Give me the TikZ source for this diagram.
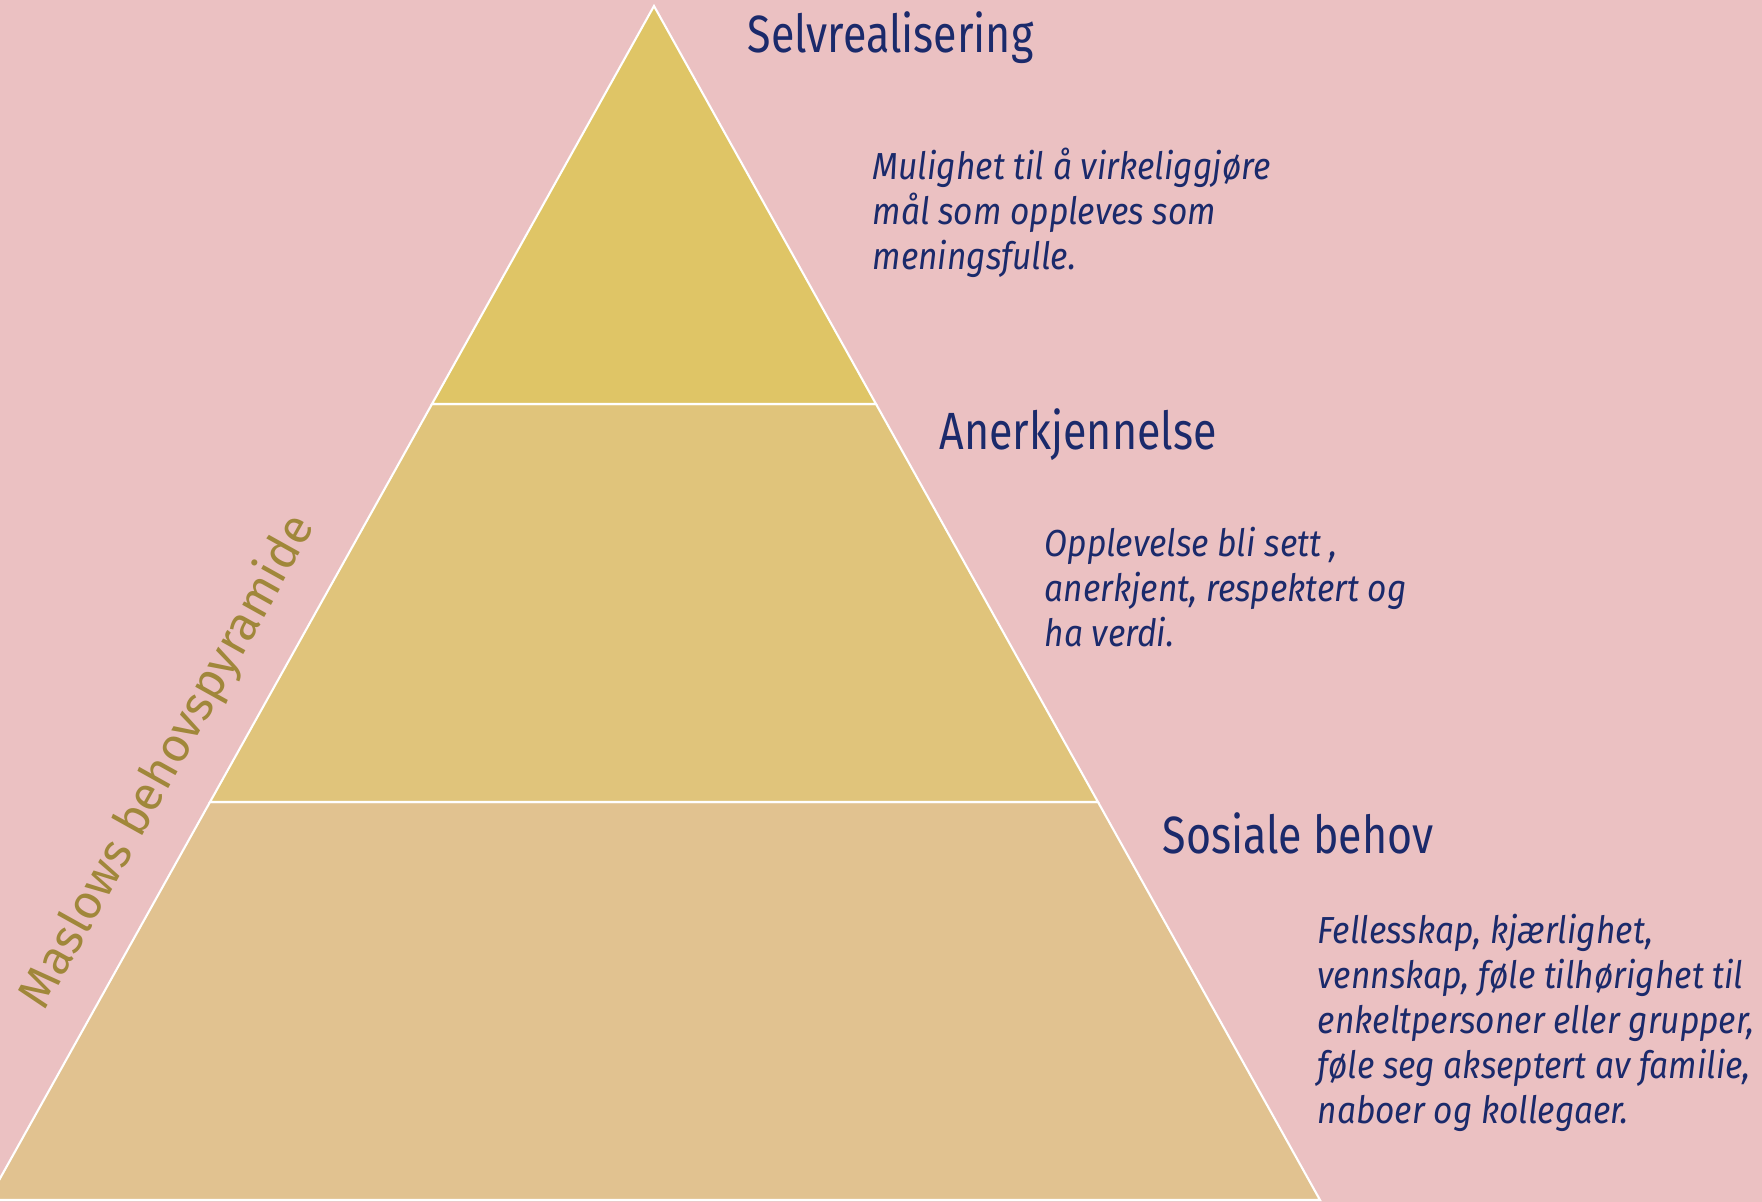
\documentclass[tikz,border=0pt]{standalone}
\usepackage{fontspec}
\setmainfont{Fira Sans}[FakeStretch=0.89]
\newfontfamily\headfont{Fira Sans}[FakeStretch=0.82]
\newfontfamily\pyrfont{Fira Sans}
\usetikzlibrary{calc}

\definecolor{bgpink}{HTML}{EBC1C2}
\definecolor{toplevel}{HTML}{DFC566}
\definecolor{midlevel}{HTML}{E0C47B}
\definecolor{lowlevel}{HTML}{E1C290}
\definecolor{navy}{HTML}{1B2A6B}
\definecolor{olive}{HTML}{A0873A}

\tikzset{
  level/.style={draw=white, line width=0.6pt},
  heading/.style={anchor=base west, inner sep=0pt, text=navy,
    font=\headfont\fontsize{14.9}{18}\selectfont},
  note/.style={anchor=base west, inner sep=0pt, align=left, text=navy,
    font=\fontsize{10.7}{12.8}\selectfont\itshape}
}

\begin{document}
\begin{tikzpicture}[x=0.01cm,y=0.01cm]
  \fill[bgpink] (0,0) rectangle (1762,1202);
  \useasboundingbox (0,0) rectangle (1762,1202);
  % pyramid corners
  \coordinate (apex) at (654,1196);
  \coordinate (bl) at (-12,2);
  \coordinate (br) at (1320,2);
  \coordinate (l1) at ($(apex)!1/3!(bl)$);
  \coordinate (r1) at ($(apex)!1/3!(br)$);
  \coordinate (l2) at ($(apex)!2/3!(bl)$);
  \coordinate (r2) at ($(apex)!2/3!(br)$);
  % levels
  \filldraw[level,fill=lowlevel] (bl) -- (br) -- (r2) -- (l2) -- cycle;
  \filldraw[level,fill=midlevel] (l2) -- (r2) -- (r1) -- (l1) -- cycle;
  \filldraw[level,fill=toplevel] (l1) -- (r1) -- (apex) -- cycle;
  % texts (notes sit on their last line)
  \node[heading] (selv) at (747,1149) {Selvrealisering};
  \node[note] (selvnote) at (872,932) {Mulighet til å virkeliggjøre\\mål som oppleves som\\meningsfulle.};
  \node[heading] (anerk) at (939,752) {Anerkjennelse};
  \node[note] (anerknote) at (1044,555) {Opplevelse bli sett ,\\anerkjent, respektert og\\ha verdi.};
  \node[heading] (sosial) at (1162,348) {Sosiale behov};
  \node[note] (sosialnote) at (1317,78) {Fellesskap, kjærlighet,\\vennskap, føle tilhørighet til\\enkeltpersoner eller grupper,\\føle seg akseptert av familie,\\naboer og kollegaer.};
  \node[rotate=60.85, text=olive, font=\pyrfont\fontsize{13.6}{16}\selectfont] (maslow) at (168,440) {Maslows behovspyramide};
\end{tikzpicture}
\end{document}
